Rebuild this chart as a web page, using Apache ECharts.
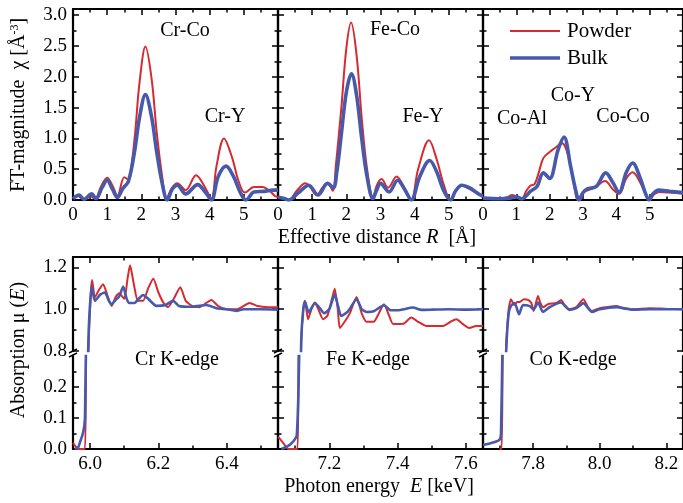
<!DOCTYPE html>
<html><head><meta charset="utf-8">
<script src="https://cdn.jsdelivr.net/npm/echarts@6/dist/echarts.min.js"></script>
<style>html,body{margin:0;padding:0;background:#fff}#c{width:683px;height:503px}</style>
</head><body><div id="c"></div>
<script>
// ---------- DATA ----------
// FT magnitude vs effective distance R (Å)
const crFtPowder = [[0,0.03],[0.15,0.06],[0.3,0.01],[0.5,0.06],[0.65,0.02],[0.82,0.22],[1.0,0.36],[1.15,0.24],[1.3,0.07],[1.5,0.37],[1.62,0.33],[1.72,0.6],[1.82,1.1],[1.95,1.92],[2.12,2.49],[2.3,1.97],[2.45,1.1],[2.6,0.42],[2.74,0.03],[2.9,0.2],[3.05,0.27],[3.3,0.16],[3.6,0.40],[3.85,0.22],[4.05,0.02],[4.2,0.55],[4.42,1.0],[4.65,0.7],[4.85,0.3],[5.03,0.12],[5.3,0.21],[5.55,0.21],[5.75,0.15],[5.92,0.06],[6.0,0.05]];
const crFtBulk = [[0,0.02],[0.18,0.08],[0.32,0.01],[0.55,0.1],[0.67,0.02],[0.85,0.2],[1.0,0.32],[1.15,0.18],[1.3,0.04],[1.45,0.18],[1.62,0.3],[1.8,0.78],[1.95,1.35],[2.12,1.71],[2.3,1.35],[2.45,0.78],[2.6,0.3],[2.76,0.0],[2.9,0.17],[3.05,0.24],[3.3,0.1],[3.65,0.25],[3.88,0.12],[4.05,0.0],[4.25,0.38],[4.48,0.55],[4.7,0.38],[4.9,0.12],[5.06,0.0],[5.3,0.13],[5.6,0.14],[5.85,0.16],[6.0,0.16]];
const feFtPowder = [[0,0.05],[0.15,0.03],[0.32,0.0],[0.55,0.15],[0.8,0.27],[0.95,0.2],[1.13,0.08],[1.3,0.2],[1.45,0.28],[1.6,0.15],[1.7,0.6],[1.85,1.47],[2.0,2.46],[2.14,2.88],[2.3,2.35],[2.45,1.33],[2.6,0.53],[2.78,0.05],[2.9,0.25],[3.03,0.34],[3.22,0.2],[3.47,0.38],[3.7,0.2],[3.9,0.0],[4.1,0.5],[4.42,0.97],[4.65,0.65],[4.85,0.25],[5.05,0.0],[5.2,0.15],[5.38,0.23],[5.6,0.18],[5.9,0.08],[6.0,0.05]];
const feFtBulk = [[0,0.05],[0.15,0.03],[0.32,0.0],[0.6,0.12],[0.9,0.24],[1.17,0.08],[1.45,0.27],[1.62,0.2],[1.72,0.45],[1.85,1.05],[2.0,1.75],[2.15,2.05],[2.3,1.7],[2.45,1.0],[2.6,0.4],[2.78,0.02],[2.88,0.15],[3.0,0.27],[3.25,0.13],[3.5,0.32],[3.7,0.18],[3.9,0.0],[4.15,0.38],[4.44,0.64],[4.65,0.45],[4.85,0.15],[5.05,0.0],[5.2,0.15],[5.38,0.24],[5.6,0.2],[5.9,0.09],[6.0,0.07]];
const coFtPowder = [[0,0.03],[0.4,0.02],[0.7,0.04],[0.88,0.08],[1.0,0.05],[1.15,0.01],[1.3,0.15],[1.42,0.23],[1.55,0.26],[1.67,0.44],[1.81,0.68],[2.0,0.78],[2.15,0.84],[2.37,0.92],[2.59,0.65],[2.74,0.22],[2.84,0.0],[3.0,0.12],[3.1,0.15],[3.35,0.2],[3.66,0.31],[3.9,0.17],[4.08,0.1],[4.3,0.35],[4.49,0.45],[4.7,0.3],[4.87,0.1],[4.98,0.0],[5.15,0.1],[5.3,0.13],[5.6,0.12],[6.0,0.1]];
const coFtBulk = [[0,0.03],[0.5,0.02],[0.8,0.03],[1.0,0.05],[1.17,0.02],[1.3,0.07],[1.42,0.14],[1.62,0.22],[1.81,0.44],[2.0,0.35],[2.25,0.81],[2.43,1.02],[2.63,0.54],[2.78,0.16],[2.88,0.0],[3.0,0.12],[3.13,0.18],[3.4,0.22],[3.68,0.44],[3.9,0.28],[4.08,0.12],[4.3,0.45],[4.49,0.6],[4.7,0.38],[4.88,0.1],[4.98,0.0],[5.1,0.1],[5.27,0.16],[5.6,0.14],[6.0,0.12]];

// Absorption mu(E) vs photon energy E (keV)
const crXasPowder = [[5.95,0.02],[5.96,0.005],[5.965,0.0],[5.985,0.0],[5.988,0.3],[5.996,0.85],[6.002,1.08],[6.006,1.14],[6.014,1.057],[6.025,1.09],[6.038,1.12],[6.05,1.07],[6.063,1.016],[6.075,1.06],[6.085,1.076],[6.1,1.05],[6.11,1.15],[6.117,1.21],[6.128,1.12],[6.14,1.04],[6.155,1.04],[6.17,1.1],[6.185,1.146],[6.2,1.08],[6.215,1.03],[6.228,1.01],[6.245,1.05],[6.264,1.105],[6.28,1.04],[6.3,1.015],[6.32,1.01],[6.34,1.03],[6.355,1.044],[6.375,1.015],[6.4,1.0],[6.43,1.0],[6.467,1.03],[6.49,1.015],[6.52,1.01],[6.55,1.01]];
const crXasBulk = [[5.955,0.0],[5.965,0.005],[5.97,0.02],[5.98,0.055],[5.985,0.1],[5.99,0.5],[5.996,0.9],[6.005,1.11],[6.014,1.04],[6.03,1.07],[6.043,1.08],[6.055,1.04],[6.063,1.024],[6.075,1.045],[6.085,1.06],[6.097,1.108],[6.107,1.05],[6.115,1.03],[6.13,1.03],[6.142,1.05],[6.155,1.068],[6.17,1.05],[6.194,1.016],[6.22,1.02],[6.243,1.04],[6.26,1.016],[6.3,1.012],[6.34,1.02],[6.37,1.005],[6.4,1.0],[6.428,0.992],[6.45,1.0],[6.5,1.0],[6.55,0.998]];
const feXasPowder = [[7.05,0.04],[7.065,0.02],[7.08,0.0],[7.107,0.0],[7.11,0.3],[7.118,0.85],[7.124,1.0],[7.129,1.04],[7.138,0.952],[7.148,1.0],[7.158,1.032],[7.168,1.0],[7.182,0.952],[7.195,0.97],[7.208,1.05],[7.216,1.098],[7.225,1.0],[7.231,0.91],[7.245,0.94],[7.26,0.98],[7.28,1.059],[7.295,0.98],[7.309,0.94],[7.33,0.94],[7.345,0.98],[7.36,1.024],[7.375,0.97],[7.387,0.929],[7.416,0.93],[7.44,0.96],[7.46,0.94],[7.484,0.92],[7.533,0.92],[7.555,0.94],[7.572,0.952],[7.59,0.93],[7.61,0.91],[7.63,0.92],[7.65,0.92]];
const feXasBulk = [[7.06,0.0],[7.08,0.01],[7.095,0.025],[7.105,0.045],[7.112,0.3],[7.118,0.85],[7.124,1.0],[7.129,1.035],[7.14,0.985],[7.158,1.03],[7.17,1.01],[7.185,0.981],[7.2,1.0],[7.216,1.071],[7.225,1.02],[7.235,0.968],[7.255,0.99],[7.28,1.048],[7.295,1.0],[7.31,0.987],[7.33,0.99],[7.36,1.019],[7.38,0.995],[7.4,0.995],[7.445,1.008],[7.47,0.997],[7.5,0.998],[7.55,1.0],[7.6,0.998],[7.65,1.0]];
const coXasPowder = [[7.70,0.0],[7.706,0.0],[7.709,0.3],[7.719,0.8],[7.727,1.0],[7.734,1.048],[7.74,1.03],[7.745,1.02],[7.752,1.035],[7.76,1.035],[7.773,1.048],[7.785,1.045],[7.795,1.03],[7.802,0.992],[7.815,1.063],[7.822,1.03],[7.831,1.01],[7.845,1.024],[7.87,1.03],[7.884,1.044],[7.895,1.02],[7.909,1.0],[7.93,1.01],[7.951,1.048],[7.965,1.01],[7.977,0.992],[8.0,1.005],[8.02,1.01],[8.05,1.016],[8.07,1.005],[8.1,1.0],[8.15,1.005],[8.2,1.002],[8.25,1.0]];
const coXasBulk = [[7.65,0.013],[7.67,0.018],[7.69,0.024],[7.70,0.03],[7.704,0.05],[7.708,0.3],[7.72,0.82],[7.727,0.98],[7.734,1.016],[7.745,1.03],[7.758,0.976],[7.77,1.02],[7.79,1.015],[7.802,1.0],[7.815,1.032],[7.83,0.987],[7.85,1.01],[7.884,1.032],[7.909,0.997],[7.93,1.005],[7.951,1.029],[7.977,0.987],[8.0,1.0],[8.05,1.01],[8.1,0.998],[8.15,1.0],[8.25,1.0]];

// Tick values
const rTicks = [0,1,2,3,4,5];
const rMinorTicks = [0.5,1.5,2.5,3.5,4.5,5.5];
const ftTicks = [0,0.5,1.0,1.5,2.0,2.5,3.0];
const ftMinorTicks = [0.25,0.75,1.25,1.75,2.25,2.75];
const crETicks = [6.0,6.2,6.4], crEMinor = [6.1,6.3,6.5];
const feETicks = [7.2,7.4,7.6], feEMinor = [7.1,7.3,7.5];
const coETicks = [7.8,8.0,8.2], coEMinor = [7.7,7.9,8.1];
const muUpperTicks = [0.8,1.0,1.2], muUpperMinor = [0.9,1.1];
const muLowerTicks = [0,0.1,0.2], muLowerMinor = [0.05,0.15,0.25];

// Axis ranges
const rRange = [0,6], ftRange = [0,3.1];
const eRanges = [[5.95,6.55],[7.05,7.65],[7.65,8.25]];
const muUpperRange = [0.8,1.25], muLowerRange = [0,0.3];

// Labels
const panelLabels = ['Cr-Co','Cr-Y','Fe-Co','Fe-Y','Co-Al','Co-Y','Co-Co'];
const edgeLabels = ['Cr K-edge','Fe K-edge','Co K-edge'];
const seriesNames = ['Powder','Bulk'];

// ---------- STYLE / LAYOUT ----------
const FONT = 'Liberation Serif';
const RED = '#d62a30', BLUE = '#4659ab';
const lefts = [73,278,483], W = 205;
const grids = [];
lefts.forEach(l => grids.push({left:l, top:9, width:W, height:191}));
lefts.forEach(l => grids.push({left:l, top:257, width:W, height:94}));
lefts.forEach(l => grids.push({left:l, top:356, width:W, height:93}));

const xAxes = [], yAxes = [];
function ax(list, o) {
  list.push({
    type:'value', gridIndex:o.grid, min:o.min, max:o.max, position:o.pos,
    axisLine:{show:!!o.line, onZero:false, lineStyle:{color:'#000', width:2.2}},
    axisTick:{show:true, inside:true, length:o.len, customValues:o.vals, lineStyle:{color:'#000', width:1.5}},
    axisLabel:{show:!!o.fmt, customValues:o.vals, formatter:o.fmt, fontFamily:FONT, fontSize:19, color:'#000', margin:6},
    splitLine:{show:false}
  });
  return list.length - 1;
}
const f1 = v => v.toFixed(1), f0 = v => String(Math.round(v));
const MAJ = 6, MIN = 3.5;
const axIdx = [];
// top panels
for (let i = 0; i < 3; i++) {
  const g = i;
  const xi = ax(xAxes,{grid:g,min:rRange[0],max:rRange[1],pos:'bottom',line:1,len:MAJ,vals:rTicks,fmt:f0});
  ax(xAxes,{grid:g,min:rRange[0],max:rRange[1],pos:'bottom',len:MIN,vals:rMinorTicks});
  ax(xAxes,{grid:g,min:rRange[0],max:rRange[1],pos:'top',line:1,len:MAJ,vals:rTicks});
  ax(xAxes,{grid:g,min:rRange[0],max:rRange[1],pos:'top',len:MIN,vals:rMinorTicks});
  const yi = ax(yAxes,{grid:g,min:ftRange[0],max:ftRange[1],pos:'left',line:1,len:MAJ,vals:ftTicks,fmt:i===0?f1:null});
  ax(yAxes,{grid:g,min:ftRange[0],max:ftRange[1],pos:'left',len:MIN,vals:ftMinorTicks});
  ax(yAxes,{grid:g,min:ftRange[0],max:ftRange[1],pos:'right',line:1,len:MAJ,vals:ftTicks});
  ax(yAxes,{grid:g,min:ftRange[0],max:ftRange[1],pos:'right',len:MIN,vals:ftMinorTicks});
  axIdx.push([xi,yi]);
}
const eTickSets = [[crETicks,crEMinor],[feETicks,feEMinor],[coETicks,coEMinor]];
// bottom upper panels
for (let i = 0; i < 3; i++) {
  const g = 3 + i, r = eRanges[i];
  ax(xAxes,{grid:g,min:r[0],max:r[1],pos:'top',line:1,len:MAJ,vals:eTickSets[i][0]});
  const xi = ax(xAxes,{grid:g,min:r[0],max:r[1],pos:'top',len:MIN,vals:eTickSets[i][1]});
  const yi = ax(yAxes,{grid:g,min:muUpperRange[0],max:muUpperRange[1],pos:'left',line:1,len:MAJ,vals:muUpperTicks,fmt:i===0?f1:null});
  ax(yAxes,{grid:g,min:muUpperRange[0],max:muUpperRange[1],pos:'left',len:MIN,vals:muUpperMinor});
  ax(yAxes,{grid:g,min:muUpperRange[0],max:muUpperRange[1],pos:'right',line:1,len:MAJ,vals:muUpperTicks});
  ax(yAxes,{grid:g,min:muUpperRange[0],max:muUpperRange[1],pos:'right',len:MIN,vals:muUpperMinor});
  axIdx.push([xi,yi]);
}
// bottom lower panels
for (let i = 0; i < 3; i++) {
  const g = 6 + i, r = eRanges[i];
  const xi = ax(xAxes,{grid:g,min:r[0],max:r[1],pos:'bottom',line:1,len:MAJ,vals:eTickSets[i][0],fmt:f1});
  ax(xAxes,{grid:g,min:r[0],max:r[1],pos:'bottom',len:MIN,vals:eTickSets[i][1]});
  const yi = ax(yAxes,{grid:g,min:muLowerRange[0],max:muLowerRange[1],pos:'left',line:1,len:MAJ,vals:muLowerTicks,fmt:i===0?f1:null});
  ax(yAxes,{grid:g,min:muLowerRange[0],max:muLowerRange[1],pos:'left',len:MIN,vals:muLowerMinor});
  ax(yAxes,{grid:g,min:muLowerRange[0],max:muLowerRange[1],pos:'right',line:1,len:MAJ,vals:muLowerTicks});
  ax(yAxes,{grid:g,min:muLowerRange[0],max:muLowerRange[1],pos:'right',len:MIN,vals:muLowerMinor});
  axIdx.push([xi,yi]);
}

const ftData = [[crFtPowder,crFtBulk],[feFtPowder,feFtBulk],[coFtPowder,coFtBulk]];
const xasData = [[crXasPowder,crXasBulk],[feXasPowder,feXasBulk],[coXasPowder,coXasBulk]];
const series = [];
function line(name, data, g, color, width, smooth) {
  series.push({name, type:'line', data, xAxisIndex:axIdx[g][0], yAxisIndex:axIdx[g][1],
    showSymbol:false, symbol:'none', smooth, clip:true, animation:false,
    lineStyle:{color, width}, itemStyle:{color}});
}
const RED_W = 2, BLUE_W = 3.6;
for (let i = 0; i < 3; i++) {
  line(seriesNames[0], ftData[i][0], i, RED, RED_W, 0.35);
  line(seriesNames[1], ftData[i][1], i, BLUE, BLUE_W, 0.35);
}
for (let i = 0; i < 3; i++) {
  for (const g of [3+i, 6+i]) {
    line(seriesNames[0], xasData[i][0], g, RED, 2, 0.2);
    line(seriesNames[1], xasData[i][1], g, BLUE, 2.6, 0.2);
  }
}

// Graphic: titles, annotations, legend, break marks
const txt = (x, y, text, size, extra) => Object.assign({type:'text', x, y, silent:true,
  style:Object.assign({text, fontFamily:FONT, fontSize:size, fill:'#000', textAlign:'center', textVerticalAlign:'middle'}, extra||{})});
const rich20 = {n:{fontFamily:FONT,fontSize:20},i:{fontFamily:FONT,fontSize:20,fontStyle:'italic'}};
const graphics = [
  txt(185,31,panelLabels[0],20), txt(225,117,panelLabels[1],20),
  txt(395,30,panelLabels[2],20), txt(423,117,panelLabels[3],20),
  txt(522,119,panelLabels[4],20), txt(573,96,panelLabels[5],20), txt(623,117,panelLabels[6],20),
  txt(177,360,edgeLabels[0],20), txt(368,360,edgeLabels[1],20), txt(573,360,edgeLabels[2],20),
  txt(377,238,'{n|Effective distance }{i|R}{n|  [Å]}',20,{rich:rich20}),
  txt(379,487,'{n|Photon energy  }{i|E}{n| [keV]}',20,{rich:rich20}),
  Object.assign(txt(19,105,'{n|FT-magnitude  χ [Å}{s|-3}{n|]}',20,{rich:{n:{fontFamily:FONT,fontSize:20},s:{fontFamily:FONT,fontSize:12,verticalAlign:'top',padding:[0,0,8,0]}}}),{rotation:Math.PI/2}),
  Object.assign(txt(19,350,'{n|Absorption μ (}{i|E}{n|)}',20,{rich:rich20}),{rotation:Math.PI/2}),
  // legend
  {type:'line', silent:true, shape:{x1:510,y1:31,x2:560,y2:31}, style:{stroke:RED, lineWidth:RED_W}},
  {type:'line', silent:true, shape:{x1:510,y1:58,x2:560,y2:58}, style:{stroke:BLUE, lineWidth:BLUE_W}},
  txt(567,31,seriesNames[0],21,{textAlign:'left'}),
  txt(567,58,seriesNames[1],21,{textAlign:'left'})
];
lefts.forEach(x => {
  graphics.push({type:'line', silent:true, shape:{x1:x-4,y1:353,x2:x+4,y2:349}, style:{stroke:'#000',lineWidth:1.5}});
  graphics.push({type:'line', silent:true, shape:{x1:x-4,y1:357,x2:x+4,y2:353}, style:{stroke:'#000',lineWidth:1.5}});
});

const chart = echarts.init(document.getElementById('c'), null, {renderer:'canvas'});
chart.setOption({
  animation:false,
  backgroundColor:'#fff',
  grid:grids, xAxis:xAxes, yAxis:yAxes, series,
  graphic:graphics
});
</script></body></html>
